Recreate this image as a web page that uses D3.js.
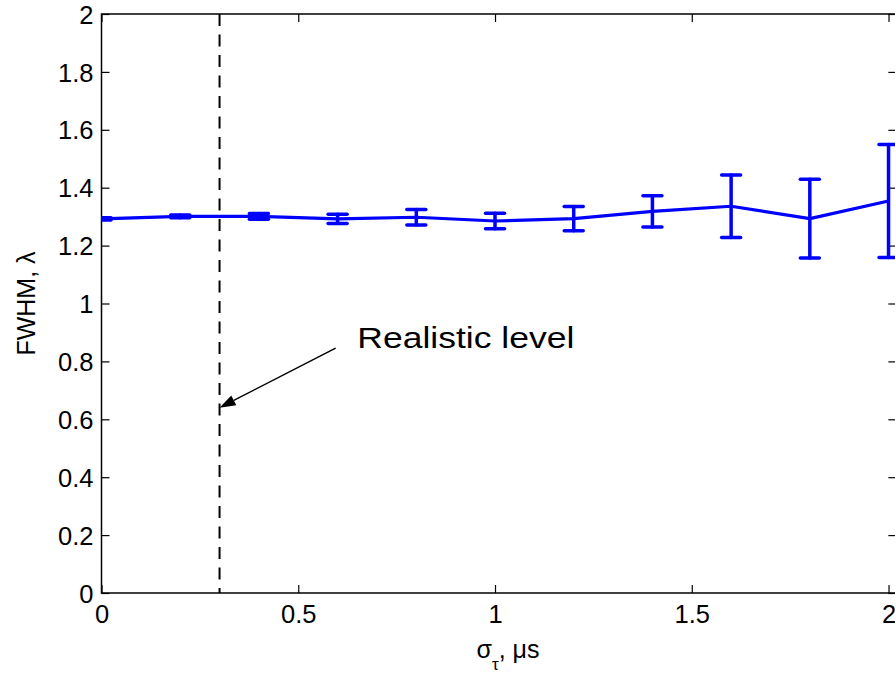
<!DOCTYPE html>
<html>
<head>
<meta charset="utf-8">
<script src="https://cdn.jsdelivr.net/npm/d3@7"></script>
<style>
  html, body { margin: 0; padding: 0; background: #fff; }
  svg { display: block; }
  text { font-family: "Liberation Sans", Arial, sans-serif; fill: #000; }
</style>
</head>
<body>
<svg id="chart" width="895" height="675"></svg>
<script>
// Spread of the pulse arrival time (µs) and the measured beam width
const sigmaTau = [0, 0.2, 0.4, 0.6, 0.8, 1.0, 1.2, 1.4, 1.6, 1.8, 2.0];
const fwhm     = [1.292, 1.301, 1.301, 1.292, 1.298, 1.285, 1.293, 1.318, 1.336, 1.293, 1.354];
const fwhmErr  = [0.004, 0.005, 0.010, 0.016, 0.027, 0.027, 0.042, 0.054, 0.108, 0.136, 0.195];

const xTicks = [0, 0.5, 1, 1.5, 2];
const yTicks = [0, 0.2, 0.4, 0.6, 0.8, 1, 1.2, 1.4, 1.6, 1.8, 2];

// Realistic-level marker and its annotation (data units)
const realisticLevel = 0.3;
const noteText = "Realistic level";
const notePos = [0.65, 0.846];
const arrowFrom = [0.595, 0.846];
const arrowTo = [0.3, 0.64];

const svg = d3.select("#chart");
const plotL = 101.5, plotR = 896.4, plotT = 14, plotB = 593;

const x = d3.scaleLinear().domain([0, 2.02]).range([plotL, plotR]);
const y = d3.scaleLinear().domain([0, 2]).range([plotB, plotT]);

svg.append("defs").append("clipPath").attr("id", "plotClip")
  .append("rect").attr("x", plotL).attr("y", plotT)
  .attr("width", plotR - plotL).attr("height", plotB - plotT);

// Frame
svg.append("rect").attr("x", plotL).attr("y", plotT)
  .attr("width", plotR - plotL).attr("height", plotB - plotT)
  .attr("fill", "none").attr("stroke", "#000").attr("stroke-width", 1.5);

const tickLen = 8;
const tickFont = 25.5;
const fmt = d => String(d);

// Bottom axis (ticks point inwards)
const xAxisB = svg.append("g").attr("transform", `translate(0,${plotB})`)
  .call(d3.axisBottom(x).tickValues(xTicks).tickSize(-tickLen).tickPadding(12).tickFormat(fmt));
// Top axis ticks
const xAxisT = svg.append("g").attr("transform", `translate(0,${plotT})`)
  .call(d3.axisTop(x).tickValues(xTicks).tickSize(-tickLen).tickFormat(""));
// Left axis
const yAxisL = svg.append("g").attr("transform", `translate(${plotL},0)`)
  .call(d3.axisLeft(y).tickValues(yTicks).tickSize(-tickLen).tickPadding(8).tickFormat(fmt));
// Right axis ticks
const yAxisR = svg.append("g").attr("transform", `translate(${plotR},0)`)
  .call(d3.axisRight(y).tickValues(yTicks).tickSize(-tickLen).tickFormat(""));

[xAxisB, xAxisT, yAxisL, yAxisR].forEach(g => {
  g.select(".domain").remove();
  g.selectAll(".tick line").attr("stroke", "#000").attr("stroke-width", 1.2);
  g.selectAll("text").attr("font-size", tickFont)
    .attr("font-family", "'Liberation Sans', Arial, sans-serif").attr("fill", "#000");
});
xAxisB.selectAll("text").attr("dy", "0.72em");
yAxisL.selectAll("text").attr("dy", "0.36em");

// Dashed vertical line at the realistic level
svg.append("line")
  .attr("x1", x(realisticLevel)).attr("x2", x(realisticLevel))
  .attr("y1", y(2)).attr("y2", y(0))
  .attr("stroke", "#000").attr("stroke-width", 2)
  .attr("stroke-dasharray", "12,8.5");

// Data series with error bars
const plot = svg.append("g").attr("clip-path", "url(#plotClip)");
const blue = "#0000ff";
const capHalf = 9.5;

plot.append("path")
  .datum(sigmaTau.map((s, i) => [s, fwhm[i]]))
  .attr("d", d3.line().x(d => x(d[0])).y(d => y(d[1])))
  .attr("fill", "none").attr("stroke", blue).attr("stroke-width", 3.2)
  .attr("stroke-linejoin", "round");

const bars = plot.selectAll(".err").data(sigmaTau.map((s, i) => ({ s, v: fwhm[i], e: fwhmErr[i] })))
  .enter().append("g").attr("class", "err")
  .attr("stroke", blue).attr("stroke-width", 3.5).attr("stroke-linecap", "round");
bars.append("line")
  .attr("x1", d => x(d.s)).attr("x2", d => x(d.s))
  .attr("y1", d => y(d.v + d.e)).attr("y2", d => y(d.v - d.e));
bars.append("line")
  .attr("x1", d => x(d.s) - capHalf).attr("x2", d => x(d.s) + capHalf)
  .attr("y1", d => y(d.v + d.e)).attr("y2", d => y(d.v + d.e));
bars.append("line")
  .attr("x1", d => x(d.s) - capHalf).attr("x2", d => x(d.s) + capHalf)
  .attr("y1", d => y(d.v - d.e)).attr("y2", d => y(d.v - d.e));

// Annotation arrow
const ax0 = x(arrowFrom[0]), ay0 = y(arrowFrom[1]);
const ax1 = x(arrowTo[0]), ay1 = y(arrowTo[1]);
const ang = Math.atan2(ay1 - ay0, ax1 - ax0);
const headLen = 16, headHalf = 5.5;
const bx = ax1 - headLen * Math.cos(ang), by = ay1 - headLen * Math.sin(ang);
svg.append("line")
  .attr("x1", ax0).attr("y1", ay0).attr("x2", bx).attr("y2", by)
  .attr("stroke", "#000").attr("stroke-width", 1.5);
svg.append("path")
  .attr("d", `M${ax1},${ay1}L${bx - headHalf * Math.sin(ang)},${by + headHalf * Math.cos(ang)}L${bx + headHalf * Math.sin(ang)},${by - headHalf * Math.cos(ang)}Z`)
  .attr("fill", "#000");

svg.append("text")
  .attr("x", x(notePos[0])).attr("y", y(notePos[1]))
  .attr("font-size", 29)
  .attr("textLength", 217).attr("lengthAdjust", "spacingAndGlyphs")
  .text(noteText);

// Axis titles
const xt = svg.append("text")
  .attr("x", 508).attr("y", 658)
  .attr("text-anchor", "middle").attr("font-size", 25);
xt.append("tspan").text("σ");
xt.append("tspan").attr("font-size", 17).attr("dy", 12).text("τ");
xt.append("tspan").attr("dy", -12).text(", μs");

svg.append("text")
  .attr("transform", `translate(35,${(plotT + plotB) / 2}) rotate(-90)`)
  .attr("text-anchor", "middle").attr("font-size", 25)
  .text("FWHM, λ");
</script>
</body>
</html>
